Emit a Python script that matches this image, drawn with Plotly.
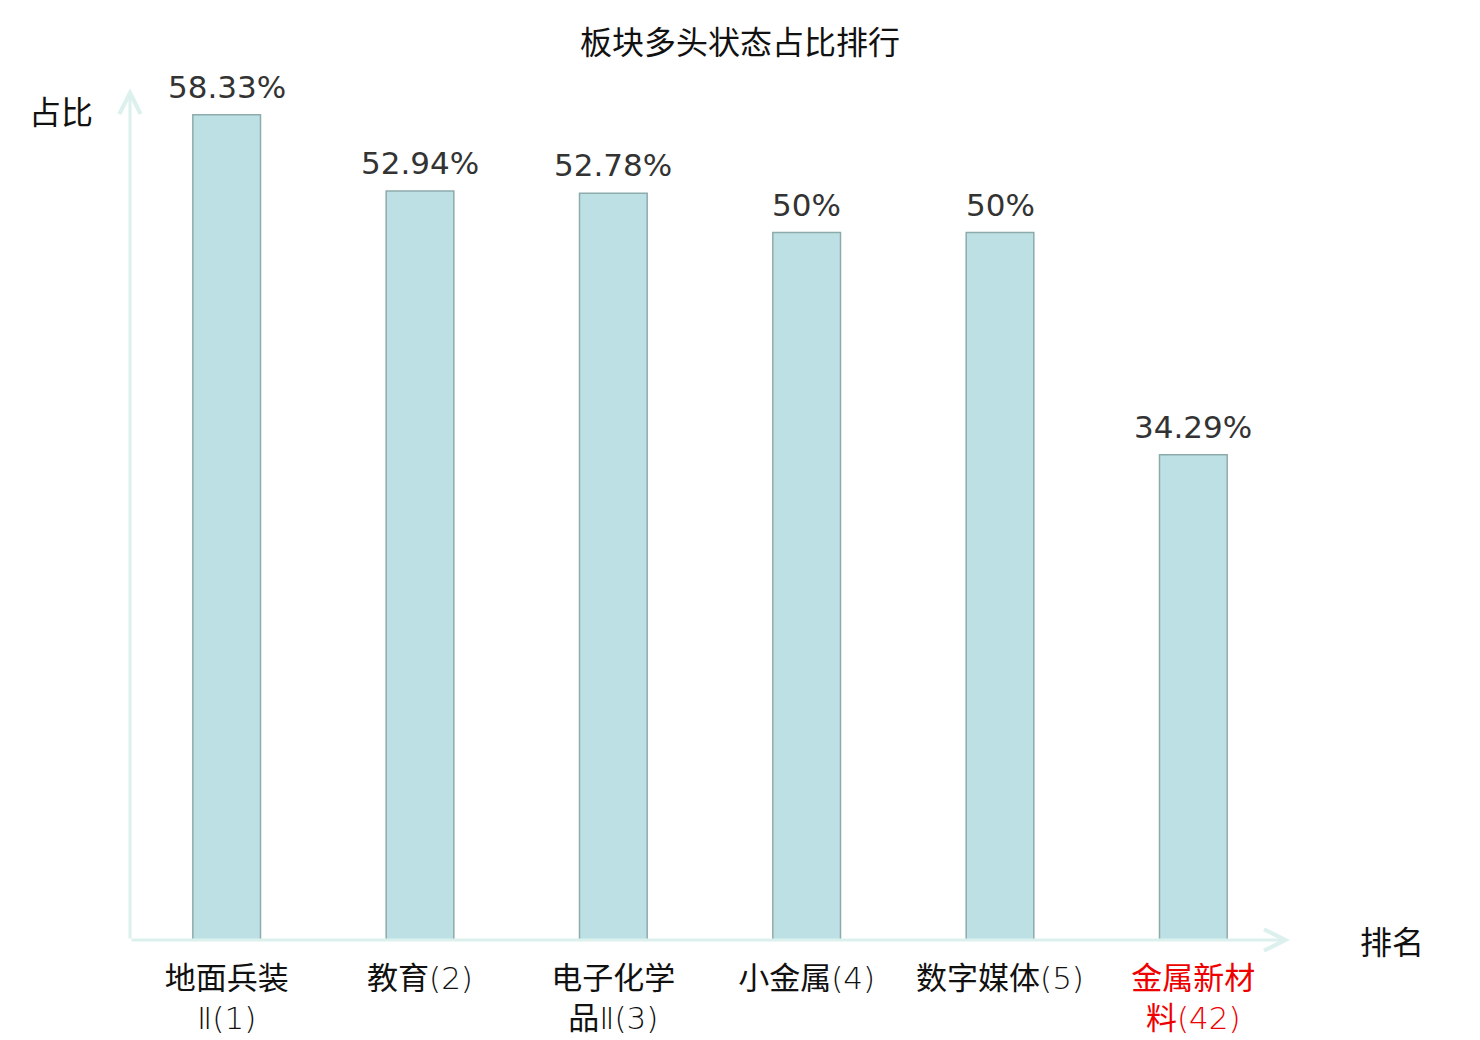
import plotly.graph_objects as go

# data
names = ["地面兵装Ⅱ", "教育", "电子化学品Ⅱ", "小金属", "数字媒体", "金属新材料"]
ranks = [1, 2, 3, 4, 5, 42]
ratios = [58.33, 52.94, 52.78, 50, 50, 34.29]
value_labels = ["58.33%", "52.94%", "52.78%", "50%", "50%", "34.29%"]
highlight_rank = 42

cjk = "Noto Sans CJK SC"
axis_col = "#dcf1ee"
light = "<span style=\"font-family:'DejaVu Sans';font-weight:200\">{}</span>"


def make_tick(name, rank):
    text = name.replace("Ⅱ", light.format("Ⅱ"))
    if len(name) > 4:
        head = name[:4]
        tail = name[4:].replace("Ⅱ", light.format("Ⅱ"))
        text = head + "<br>" + tail
    text = text + light.format(f"({rank})")
    if rank == highlight_rank:
        text = f'<span style="color:#ee0000">{text}</span>'
    return text


ticktext = [make_tick(n, r) for n, r in zip(names, ranks)]
xs = list(range(len(names)))

fig = go.Figure()

fig.add_trace(
    go.Bar(
        x=xs,
        y=ratios,
        width=0.35,
        marker=dict(color="#bce0e4", line=dict(color="#8eabab", width=1.5)),
        hoverinfo="skip",
    )
)

# value labels above the bars
for x, y, t in zip(xs, ratios, value_labels):
    fig.add_annotation(
        x=x, y=y, text=t, showarrow=False, yanchor="bottom", yshift=8,
        font=dict(family="DejaVu Sans", size=31, color="#333333"),
    )

# axis arrows
fig.add_annotation(
    x=-0.5, y=60.2, ax=-0.5, ay=0, xref="x", yref="y", axref="x", ayref="y",
    showarrow=True, arrowhead=5, arrowsize=1.4, arrowwidth=3, arrowcolor=axis_col, text="",
)
fig.add_annotation(
    x=5.5, y=0, ax=-0.5, ay=0, xref="x", yref="y", axref="x", ayref="y",
    showarrow=True, arrowhead=5, arrowsize=1.4, arrowwidth=3, arrowcolor=axis_col, text="",
)

# axis names
fig.add_annotation(
    text="占比", x=-0.5, y=58.33, xref="x", yref="y", xanchor="right", xshift=-35, yshift=5,
    showarrow=False, font=dict(family=cjk, size=32, color="#111111"),
)
fig.add_annotation(
    text="排名", x=5.5, y=0, xref="x", yref="y", xanchor="left", xshift=68,
    showarrow=False, font=dict(family=cjk, size=32, color="#111111"),
)

fig.update_layout(
    width=1480,
    height=1040,
    paper_bgcolor="white",
    plot_bgcolor="white",
    showlegend=False,
    title=dict(
        text="板块多头状态占比排行",
        x=0.4946,
        xanchor="center",
        y=0.967,
        yanchor="middle",
        font=dict(family=cjk, size=32, color="#111111"),
    ),
    margin=dict(l=122, r=198, t=83, b=108),
    xaxis=dict(
        range=[-0.5, 5.5],
        tickmode="array",
        tickvals=xs,
        ticktext=ticktext,
        tickfont=dict(family=cjk, size=31, color="#111111"),
        ticklabelstandoff=17,
        automargin=False,
        showgrid=False,
        zeroline=False,
        showline=False,
        ticks="",
    ),
    yaxis=dict(
        range=[0, 60],
        showticklabels=False,
        automargin=False,
        showgrid=False,
        zeroline=False,
        showline=False,
        ticks="",
    ),
)

fig.write_html("out.html")
